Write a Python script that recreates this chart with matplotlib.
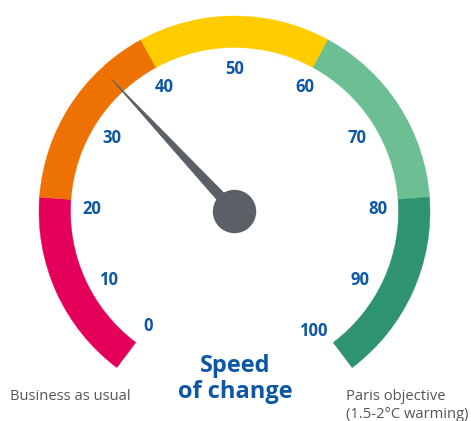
import numpy as np
import matplotlib
matplotlib.use("Agg")
import matplotlib.pyplot as plt
from matplotlib.patches import Wedge, Circle, Polygon

# Gauge bands (value ranges) and colours
band_edges = [0, 20, 40, 60, 80, 100]
band_colors = ["#E4005A", "#ED7203", "#FFCC00", "#6CBE93", "#2E9470"]

# Scale labels and needle reading
tick_values = [0, 10, 20, 30, 40, 50, 60, 70, 80, 90, 100]
tick_labels = ["0", "10", "20", "30", "40", "50", "60", "70", "80", "90", "100"]
needle_value = 35

title_text = "Speed\nof change"
left_caption = "Business as usual"
right_caption = "Paris objective\n(1.5-2°C warming)"

BLUE = "#0D57A5"
GREY_TEXT = "#555555"
NEEDLE = "#5A6066"
FONT = ["Open Sans", "DejaVu Sans"]

W, H = 471, 421
fig = plt.figure(figsize=(W / 100, H / 100), dpi=100)
ax = fig.add_axes([0, 0, 1, 1])
ax.set_xlim(0, W)
ax.set_ylim(0, H)
ax.set_aspect("equal")
ax.axis("off")

cx, cy = 234.5, 209.5
r_out, r_in = 195.5, 164.0
a_start, a_end = 233.0, -53.0      # angle of value 0 and value 100 (degrees)
vmin, vmax = band_edges[0], band_edges[-1]


def val2ang(v):
    return a_start + (a_end - a_start) * (v - vmin) / (vmax - vmin)


# Coloured bands
for lo, hi, col in zip(band_edges[:-1], band_edges[1:], band_colors):
    ax.add_patch(Wedge((cx, cy), r_out, val2ang(hi), val2ang(lo),
                       width=r_out - r_in, facecolor=col, edgecolor=col,
                       linewidth=0.3))

# Scale labels (spread a little wider than the band scale, clipped near the ends)
label_step = 2.96
label_r = 143
for v, lab in zip(tick_values, tick_labels):
    ang = 90 + (50 - v) * label_step
    ang = min(max(ang, a_end - 3.5), a_start)
    t = np.radians(ang)
    ax.text(cx + label_r * np.cos(t), cy + label_r * np.sin(t), lab,
            ha="center", va="center", fontsize=12, fontweight="bold",
            color=BLUE, family=FONT)

# Needle
t = np.radians(val2ang(needle_value))
needle_len = 181
half_w = 5.5
ux, uy = np.cos(t), np.sin(t)
px, py = -uy, ux
needle = Polygon([(cx + half_w * px, cy + half_w * py),
                  (cx + needle_len * ux, cy + needle_len * uy),
                  (cx - half_w * px, cy - half_w * py)],
                 closed=True, facecolor=NEEDLE, edgecolor=NEEDLE, linewidth=0.5)
ax.add_patch(needle)
ax.add_patch(Circle((cx, cy), 21.7, facecolor=NEEDLE, edgecolor="none"))

# Titles
ax.text(235, 42, title_text, ha="center", va="center", fontsize=17,
        fontweight="bold", color=BLUE, family=FONT, linespacing=1.15)
ax.text(10, 25, left_caption, ha="left", va="center", fontsize=10.6,
        color=GREY_TEXT, family=FONT)
ax.text(346.5, 15.5, right_caption, ha="left", va="center", fontsize=10.6,
        color=GREY_TEXT, family=FONT, linespacing=1.25)

fig.savefig("out.png", dpi=100)
